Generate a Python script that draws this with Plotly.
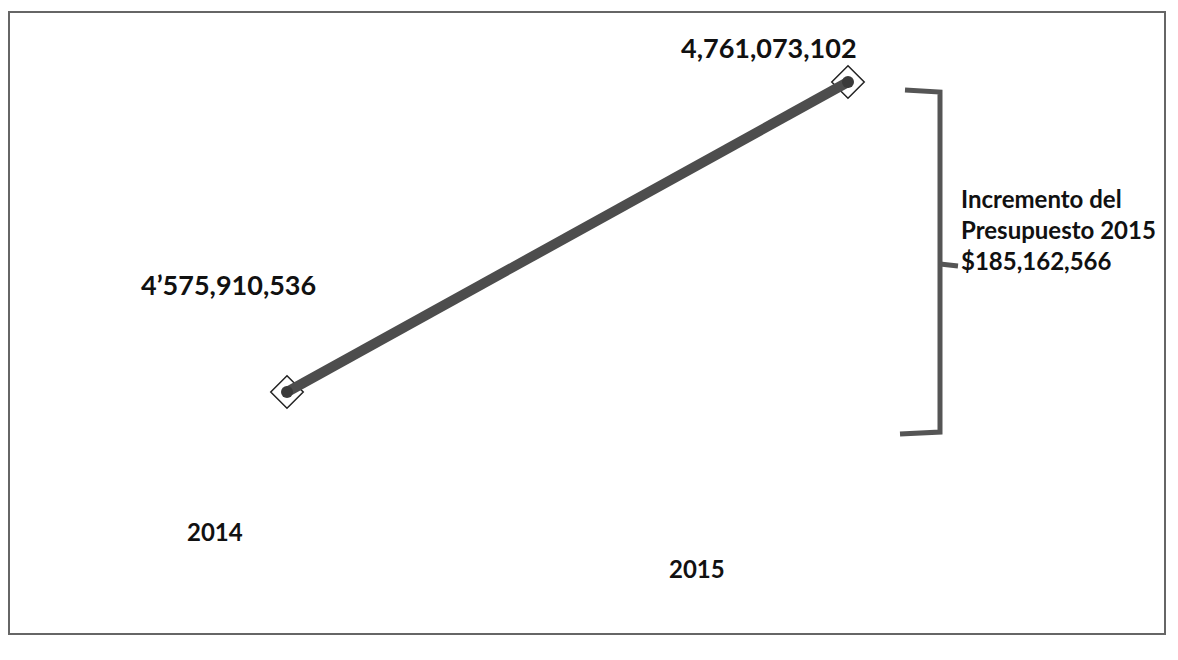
import plotly.graph_objects as go

years = [2014, 2015]
budget = [4575910536, 4761073102]
value_labels = ["4\u2019575,910,536", "4,761,073,102"]
increment = budget[1] - budget[0]
increment_label = "Incremento del<br>Presupuesto 2015<br>$185,162,566"

W, H = 1178, 660
OFF = 8  # page body margin
# pixel placement of the two points (layout)
px_x = [287 - OFF, 848 - OFF]
px_y = [392 - OFF, 82 - OFF]

sx = (px_x[1] - px_x[0]) / (years[1] - years[0])
x_range = [years[0] - px_x[0] / sx, years[0] + (W - px_x[0]) / sx]
sy = (px_y[0] - px_y[1]) / (budget[1] - budget[0])
y_range = [budget[0] - (H - px_y[0]) / sy, budget[0] + px_y[0] / sy]

def px(p):
    return (p - OFF) / W

def py(p):
    return 1 - (p - OFF) / H

FONT = "Lato"
INK = "#111"
fig = go.Figure()
fig.add_trace(go.Scatter(
    x=years, y=budget, mode="markers",
    marker=dict(symbol="diamond", size=25, color="white",
                line=dict(color="#222", width=1.5)),
    hoverinfo="skip", showlegend=False))
fig.add_trace(go.Scatter(
    x=years, y=budget, mode="lines+markers",
    line=dict(color="#4d4d4d", width=10),
    marker=dict(symbol="circle", size=12, color="#3a3a3a"),
    showlegend=False))

# value labels
fig.add_annotation(x=years[0], y=budget[0], text="<b>%s</b>" % value_labels[0],
                   xref="x", yref="y", showarrow=False,
                   xshift=-59, yshift=108, font=dict(family=FONT, size=27, color=INK))
fig.add_annotation(x=years[1], y=budget[1], text="<b>%s</b>" % value_labels[1],
                   xref="x", yref="y", showarrow=False,
                   xshift=-79, yshift=35, font=dict(family=FONT, size=27, color=INK))
# year labels
fig.add_annotation(x=years[0], y=py(548), text="<b>%d</b>" % years[0],
                   xref="x", yref="paper", showarrow=False,
                   xshift=-72, font=dict(family=FONT, size=24, color=INK))
fig.add_annotation(x=years[1], y=py(585), text="<b>%d</b>" % years[1],
                   xref="x", yref="paper", showarrow=False,
                   xshift=-151, font=dict(family=FONT, size=24, color=INK))

# bracket
bx = px(940)
fig.add_shape(type="path", xref="paper", yref="paper",
              path="M %f %f L %f %f L %f %f L %f %f L %f %f" % (
                  px(905), py(90), bx, py(92), bx, py(430), bx, py(432), px(900), py(434)),
              line=dict(color="#555", width=5))
fig.add_shape(type="line", xref="paper", yref="paper",
              x0=bx, y0=py(264), x1=px(958), y1=py(266),
              line=dict(color="#555", width=5))
fig.add_annotation(x=px(959), y=py(229), xref="paper", yref="paper",
                   text="<b>%s</b>" % increment_label, showarrow=False,
                   xanchor="left", yanchor="middle", align="left",
                   font=dict(family=FONT, size=24, color=INK))

# outer frame
fig.add_shape(type="rect", xref="paper", yref="paper",
              x0=px(9), y0=py(634), x1=px(1165), y1=py(12),
              line=dict(color="#666", width=2), fillcolor="rgba(0,0,0,0)")

fig.update_layout(
    width=W, height=H, margin=dict(l=0, r=0, t=0, b=0),
    paper_bgcolor="white", plot_bgcolor="white",
    xaxis=dict(range=x_range, visible=False, showgrid=False, zeroline=False),
    yaxis=dict(range=y_range, visible=False, showgrid=False, zeroline=False),
    showlegend=False,
)
fig.write_html("out.html")
